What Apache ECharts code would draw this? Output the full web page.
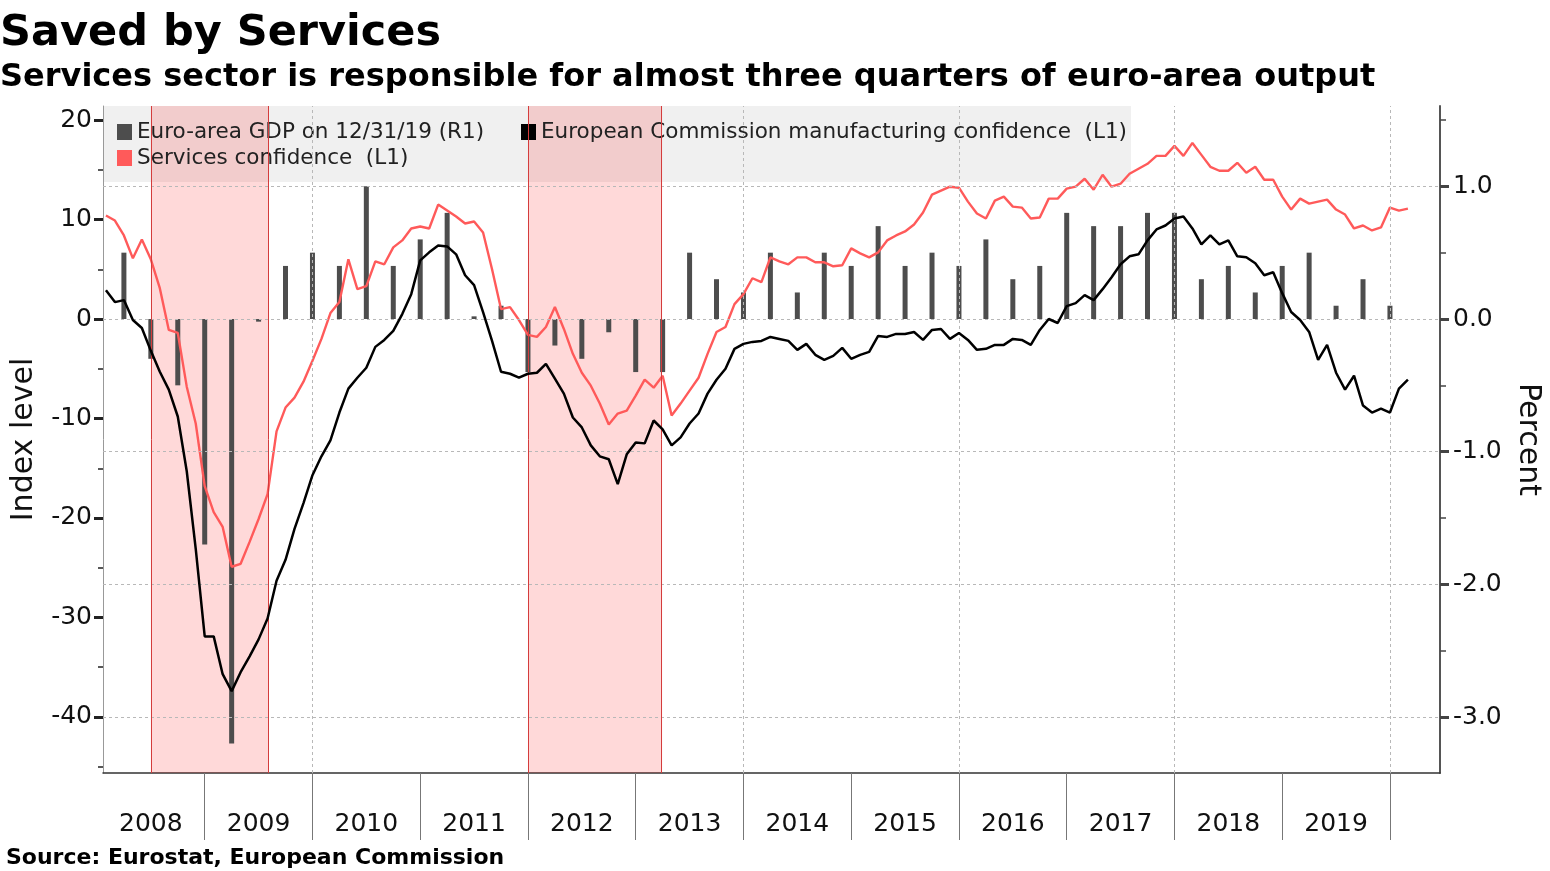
<!DOCTYPE html>
<html>
<head>
<meta charset="utf-8">
<script src="https://cdn.jsdelivr.net/npm/echarts@6/dist/echarts.min.js"></script>
<style>
html,body{margin:0;padding:0;background:#fff;}
#chart{width:1550px;height:871px;}
</style>
</head>
<body>
<div id="chart"></div>
<script>
// ---------- DATA ----------
const titleText = 'Saved by Services';
const subtitleText = 'Services sector is responsible for almost three quarters of euro-area output';
const sourceText = 'Source: Eurostat, European Commission';

const seriesNames = [
  'Euro-area GDP on 12/31/19 (R1)',
  'European Commission manufacturing confidence  (L1)',
  'Services confidence  (L1)'
];

// monthly, Jan 2008 .. Feb 2020 (plotted at month end)
const firstYear = 2008;
const manufacturingConfidence = [
  2.9, 1.7, 1.9, -0.1, -0.9, -3.2, -5.3, -7.1, -9.8, -15.3, -23.1, -31.9,
  -31.9, -35.7, -37.4, -35.5, -33.9, -32.2, -30.1, -26.3, -24.2, -21.1, -18.5, -15.7,
  -13.8, -12.2, -9.4, -7.0, -5.9, -4.9, -2.8, -2.1, -1.2, 0.5, 2.5, 5.9,
  6.7, 7.4, 7.3, 6.5, 4.4, 3.4, 0.7, -2.2, -5.3, -5.5, -5.9, -5.5,
  -5.4, -4.5, -6.0, -7.5, -9.9, -10.9, -12.7, -13.8, -14.1, -16.6, -13.6, -12.4,
  -12.5, -10.2, -11.1, -12.7, -11.9, -10.5, -9.5, -7.5, -6.1, -5.0, -3.0, -2.5,
  -2.3, -2.2, -1.8, -2.0, -2.2, -3.1, -2.5, -3.6, -4.1, -3.7, -2.9, -4.0,
  -3.6, -3.3, -1.7, -1.8, -1.5, -1.5, -1.3, -2.1, -1.1, -1.0, -2.0, -1.4,
  -2.1, -3.1, -3.0, -2.6, -2.6, -2.0, -2.1, -2.6, -1.1, 0.0, -0.4, 1.3,
  1.6, 2.4, 1.9, 3.0, 4.2, 5.5, 6.3, 6.5, 7.9, 9.0, 9.4, 10.1,
  10.3, 9.1, 7.5, 8.4, 7.5, 7.9, 6.3, 6.2, 5.6, 4.4, 4.7, 2.6,
  0.7, -0.1, -1.3, -4.1, -2.6, -5.4, -7.1, -5.7, -8.7, -9.4, -9.0, -9.4,
  -7.0, -6.1
];
const servicesConfidence = [
  10.4, 9.9, 8.4, 6.1, 8.0, 6.0, 3.1, -1.1, -1.4, -6.8, -10.5, -16.8,
  -19.4, -20.9, -24.9, -24.6, -22.4, -20.1, -17.6, -11.3, -8.9, -7.9, -6.3, -4.2,
  -2.0, 0.6, 1.7, 6.0, 3.0, 3.3, 5.8, 5.5, 7.2, 7.9, 9.1, 9.3,
  9.1, 11.5, 10.9, 10.3, 9.6, 9.8, 8.7, 5.0, 1.0, 1.2, -0.1, -1.6,
  -1.8, -0.8, 1.2, -1.0, -3.5, -5.4, -6.7, -8.5, -10.6, -9.5, -9.2, -7.7,
  -6.1, -6.9, -5.7, -9.7, -8.5, -7.2, -5.9, -3.5, -1.3, -0.8, 1.5, 2.5,
  4.1, 3.7, 6.2, 5.8, 5.5, 6.2, 6.2, 5.7, 5.7, 5.3, 5.4, 7.1,
  6.6, 6.2, 6.7, 7.9, 8.4, 8.8, 9.5, 10.7, 12.5, 12.9, 13.3, 13.2,
  11.8, 10.6, 10.1, 11.9, 12.3, 11.3, 11.2, 10.1, 10.2, 12.1, 12.1, 13.1,
  13.3, 14.1, 13.0, 14.5, 13.3, 13.6, 14.6, 15.1, 15.6, 16.4, 16.4, 17.4,
  16.4, 17.7, 16.5, 15.3, 14.9, 14.9, 15.7, 14.7, 15.3, 14.0, 14.0, 12.3,
  11.0, 12.1, 11.6, 11.8, 12.0, 11.0, 10.5, 9.1, 9.4, 8.9, 9.2, 11.2,
  10.9, 11.1
];
// quarterly q/q %, Q1 2008 .. Q4 2019 (plotted at quarter end)
const gdpGrowth = [
  0.5, -0.3, -0.5, -1.7,
  -3.2, -0.02, 0.4, 0.5,
  0.4, 1.0, 0.4, 0.6,
  0.8, 0.02, 0.1, -0.4,
  -0.2, -0.3, -0.1, -0.4,
  -0.4, 0.5, 0.3, 0.2,
  0.5, 0.2, 0.5, 0.4,
  0.7, 0.4, 0.5, 0.4,
  0.6, 0.3, 0.4, 0.8,
  0.7, 0.7, 0.8, 0.8,
  0.3, 0.4, 0.2, 0.4,
  0.5, 0.1, 0.3, 0.1
];
// recession shading, decimal years
const recessionStarts = [2008.50, 2012.0];
const recessionEnds = [2009.59, 2013.245];

const yearLabels = ['2008','2009','2010','2011','2012','2013','2014','2015','2016','2017','2018','2019'];
const leftTickValues = [-40, -30, -20, -10, 0, 10, 20];
const leftMinorTicks = [-45, -35, -25, -15, -5, 5, 15];
const rightTickValues = [-3, -2, -1, 0, 1];
const rightMinorTicks = [-2.5, -1.5, -0.5, 0.5, 1.5];
const gridYears = [2010, 2012, 2014, 2016, 2018, 2020];

// ---------- BUILD ----------
const FONT = 'DejaVu Sans';
const monthT = i => firstYear + (i + 1) / 12;
const quarterT = i => firstYear + (i + 1) / 4;

const yearBoundaries = yearLabels.map(y => Number(y) + 1);
const yearMids = yearLabels.map(y => Number(y) + 0.5);

const X_MIN = 2008.056, X_MAX = 2020.4645;
const L_MIN = -45.63, L_MAX = 21.41;
const R_MIN = -3.422, R_MAX = 1.6055;

const gridLineStyle = { type: [3, 3], color: '#b8b8b8', width: 1 };

const legendCommon = {
  icon: 'rect', itemWidth: 15, itemHeight: 16, padding: 0, selectedMode: false,
  textStyle: { fontFamily: FONT, fontSize: 21.5, color: '#222' }
};

const option = {
  animation: false,
  backgroundColor: '#fff',
  textStyle: { fontFamily: FONT },
  title: [
    { text: titleText, left: 0, top: 12, padding: 0,
      textStyle: { fontFamily: FONT, fontWeight: 'bold', fontSize: 43, color: '#000' } },
    { text: subtitleText, left: 0, top: 62, padding: 0,
      textStyle: { fontFamily: FONT, fontWeight: 'bold', fontSize: 32, color: '#000' } },
    { text: sourceText, left: 6, top: 847, padding: 0,
      textStyle: { fontFamily: FONT, fontWeight: 'bold', fontSize: 22, color: '#000' } }
  ],
  graphic: [{
    type: 'rect', left: 103, top: 106, z: 0, silent: true,
    shape: { width: 1028, height: 76 }, style: { fill: '#f0f0f0' }
  }],
  legend: [
    Object.assign({ data: [seriesNames[0]], left: 117, top: 121 }, legendCommon),
    Object.assign({ data: [seriesNames[1]], left: 521, top: 121 }, legendCommon),
    Object.assign({ data: [seriesNames[2]], left: 117, top: 147 }, legendCommon)
  ],
  grid: { left: 103, right: 110, top: 106, bottom: 98, outerBoundsMode: 'none' },
  xAxis: [{
    type: 'value', min: X_MIN, max: X_MAX,
    axisLine: { show: true, onZero: false, lineStyle: { color: '#333', width: 1.5 } },
    axisTick: { show: true, customValues: yearBoundaries, length: 67, lineStyle: { color: '#777', width: 1 } },
    axisLabel: { customValues: yearMids, formatter: v => String(Math.floor(v)), margin: 39,
      fontFamily: FONT, fontSize: 25, color: '#111' },
    splitLine: { show: false }
  }],
  yAxis: [
    { type: 'value', position: 'left', min: L_MIN, max: L_MAX,
      axisLine: { show: true, onZero: false, lineStyle: { color: '#999', width: 1 } },
      axisTick: { show: true, customValues: leftMinorTicks, length: 5, lineStyle: { color: '#222', width: 1.5 } },
      axisLabel: { customValues: leftTickValues, formatter: v => String(v), margin: 11,
        fontFamily: FONT, fontSize: 25, color: '#111' },
      splitLine: { show: false },
      name: 'Index level', nameLocation: 'middle', nameRotate: 90, nameGap: 64,
      nameTextStyle: { fontFamily: FONT, fontSize: 30, color: '#111' } },
    { type: 'value', position: 'right', min: R_MIN, max: R_MAX,
      axisLine: { show: true, onZero: false, lineStyle: { color: '#555', width: 2 } },
      axisTick: { show: true, customValues: rightMinorTicks, length: 6, lineStyle: { color: '#444', width: 1.5 } },
      axisLabel: { customValues: rightTickValues, formatter: v => v.toFixed(1), margin: 13,
        fontFamily: FONT, fontSize: 25, color: '#111' },
      splitLine: { show: false },
      name: 'Percent', nameLocation: 'middle', nameRotate: -90, nameGap: 70,
      nameTextStyle: { fontFamily: FONT, fontSize: 30, color: '#111' } },
    { type: 'value', position: 'left', min: L_MIN, max: L_MAX,
      axisLine: { show: false }, axisLabel: { show: false }, splitLine: { show: false },
      axisTick: { show: true, customValues: leftTickValues, length: 9, lineStyle: { color: '#222', width: 3 } } },
    { type: 'value', position: 'right', min: R_MIN, max: R_MAX,
      axisLine: { show: false }, axisLabel: { show: false }, splitLine: { show: false },
      axisTick: { show: true, customValues: rightTickValues, length: 9, lineStyle: { color: '#444', width: 3 } } }
  ],
  series: [
    {
      name: seriesNames[0], type: 'bar', xAxisIndex: 0, yAxisIndex: 1, z: 2,
      barWidth: 5, color: '#4d4d4d', itemStyle: { color: '#4d4d4d' },
      data: gdpGrowth.map((v, i) => [quarterT(i), v]),
      markLine: {
        silent: true, symbol: 'none', label: { show: false }, lineStyle: gridLineStyle,
        data: gridYears.map(y => ({ xAxis: y })).concat(rightTickValues.map(v => ({ yAxis: v })))
      }
    },
    {
      name: 'recessions', type: 'line', xAxisIndex: 0, yAxisIndex: 0, z: 3, data: [],
      markArea: {
        silent: true,
        itemStyle: { color: 'rgba(255,0,0,0.15)' },
        data: recessionStarts.map((s, k) => [{ xAxis: s }, { xAxis: recessionEnds[k] }])
      },
      markLine: {
        silent: true, symbol: 'none', label: { show: false },
        lineStyle: { type: 'solid', color: '#d43c3c', width: 1 },
        data: recessionStarts.concat(recessionEnds).map(v => ({ xAxis: v }))
      }
    },
    {
      name: seriesNames[2], type: 'line', xAxisIndex: 0, yAxisIndex: 0, z: 4,
      symbol: 'none', color: '#ff5a5a', lineStyle: { color: '#ff5a5a', width: 2.4 },
      data: servicesConfidence.map((v, i) => [monthT(i), v])
    },
    {
      name: seriesNames[1], type: 'line', xAxisIndex: 0, yAxisIndex: 0, z: 5,
      symbol: 'none', color: '#000', lineStyle: { color: '#000', width: 2.5 },
      data: manufacturingConfidence.map((v, i) => [monthT(i), v])
    }
  ]
};

const chart = echarts.init(document.getElementById('chart'), null, { renderer: 'canvas' });
chart.setOption(option);
</script>
</body>
</html>
